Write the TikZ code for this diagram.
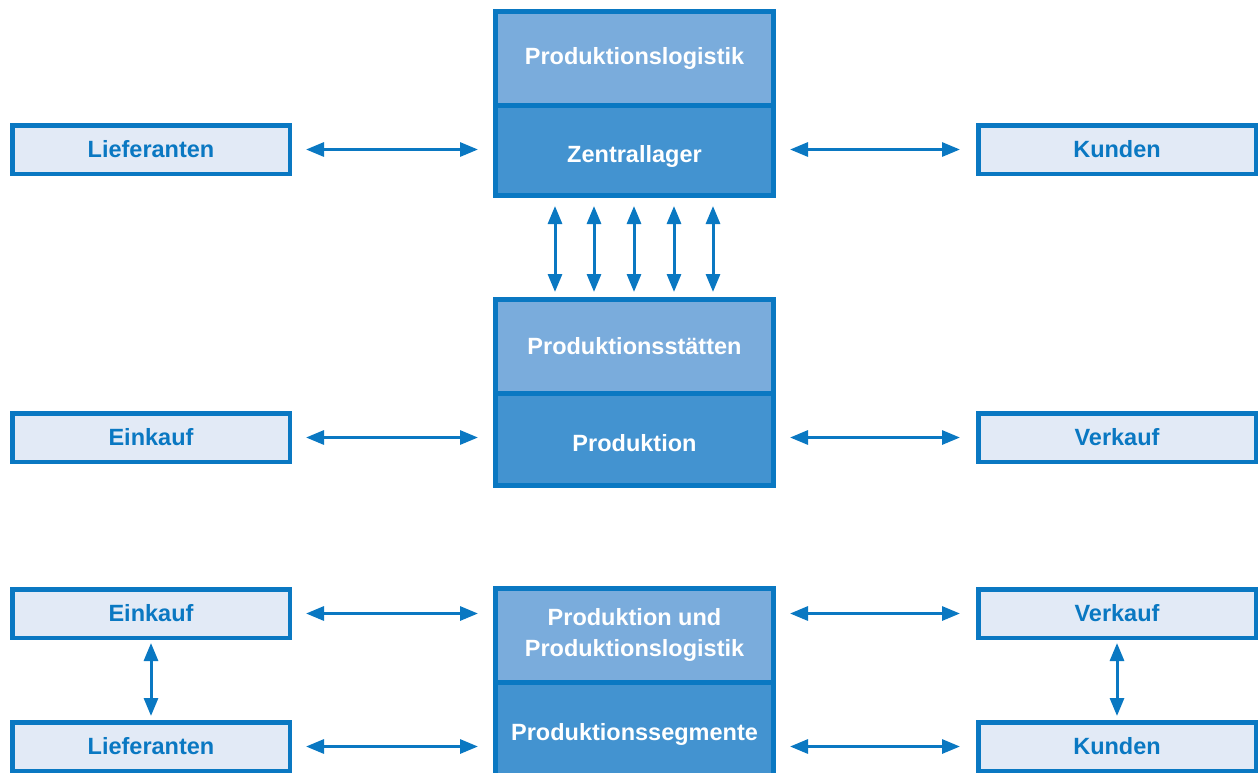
\documentclass[tikz,border=0pt]{standalone}
\usepackage{fontspec}
\setmainfont{Liberation Sans}
\usetikzlibrary{arrows.meta,calc}
\definecolor{bborder}{HTML}{0A78C2}
\definecolor{sidefill}{HTML}{E2EAF6}
\definecolor{lightblue}{HTML}{7AACDC}
\definecolor{darkblue}{HTML}{4393D0}
\newcommand{\lowertext}[2]{\raisebox{-#1}[\height][\depth]{#2}}
\tikzset{
  sidebox/.style={draw=bborder, fill=sidefill, line width=4.5pt, minimum width=277.5pt, minimum height=48.5pt, inner sep=0pt, text=bborder, font=\fontsize{23.5}{30}\selectfont\bfseries},
  upperbox/.style={draw=bborder, fill=lightblue, line width=5pt, minimum width=278pt, inner sep=0pt, text=white, align=center, font=\fontsize{23.5}{31}\selectfont\bfseries},
  lowerbox/.style={upperbox, fill=darkblue},
  arr/.style={draw=bborder, line width=3pt, {Triangle[length=18pt,width=14pt]}-{Triangle[length=18pt,width=14pt]}},
}
\begin{document}
\begin{tikzpicture}[x=1pt,y=-1pt]
\useasboundingbox (0,0) rectangle (1258,772);
% side boxes
\node[sidebox] (lief1) at (151,149.5) {Lieferanten};
\node[sidebox] (kund1) at (1117,149.5) {Kunden};
\node[sidebox] (eink2) at (151,437.5) {Einkauf};
\node[sidebox] (verk2) at (1117,437.5) {Verkauf};
\node[sidebox] (eink3) at (151,613.5) {Einkauf};
\node[sidebox] (verk3) at (1117,613.5) {Verkauf};
\node[sidebox] (lief3) at (151,746.5) {Lieferanten};
\node[sidebox] (kund3) at (1117,746.5) {Kunden};
% center blocks
\node[upperbox, minimum height=93.5pt] (pl1) at (634.5,58.25) {Produktionslogistik};
\node[lowerbox, minimum height=90.5pt] (zl1) at (634.5,150.25) {\lowertext{6pt}{Zentrallager}};
\node[upperbox, minimum height=93.5pt] (ps2) at (634.5,346.25) {Produktionsstätten};
\node[lowerbox, minimum height=92.5pt] (pr2) at (634.5,439.25) {\lowertext{4pt}{Produktion}};
\node[upperbox, minimum height=93.5pt] (pp3) at (634.5,635.25) {Produktion und\\Produktionslogistik};
\node[lowerbox, minimum height=100pt] (sg3) at (634.5,732) {\lowertext{2pt}{Produktionssegmente}};
% horizontal arrows
\draw[arr, shorten <=14pt, shorten >=15pt] (lief1.east) -- (lief1.east -| zl1.west);
\draw[arr, shorten <=14pt, shorten >=16pt] (zl1.east |- kund1.west) -- (kund1.west);
\draw[arr, shorten <=14pt, shorten >=15pt] (eink2.east) -- (eink2.east -| pr2.west);
\draw[arr, shorten <=14pt, shorten >=16pt] (pr2.east |- verk2.west) -- (verk2.west);
\draw[arr, shorten <=14pt, shorten >=15pt] (eink3.east) -- (eink3.east -| pp3.west);
\draw[arr, shorten <=14pt, shorten >=16pt] (pp3.east |- verk3.west) -- (verk3.west);
\draw[arr, shorten <=14pt, shorten >=15pt] (lief3.east) -- (lief3.east -| sg3.west);
\draw[arr, shorten <=14pt, shorten >=16pt] (sg3.east |- kund3.west) -- (kund3.west);
% vertical arrows between blocks
\foreach \xx in {555,594,634,674,713}
  \draw[arr, shorten <=8pt, shorten >=5pt] (\xx,0 |- zl1.south) -- (\xx,0 |- ps2.north);
% vertical side arrows
\draw[arr, shorten <=3pt, shorten >=4pt] (eink3.south) -- (lief3.north);
\draw[arr, shorten <=3pt, shorten >=4pt] (verk3.south) -- (kund3.north);
\end{tikzpicture}
\end{document}
